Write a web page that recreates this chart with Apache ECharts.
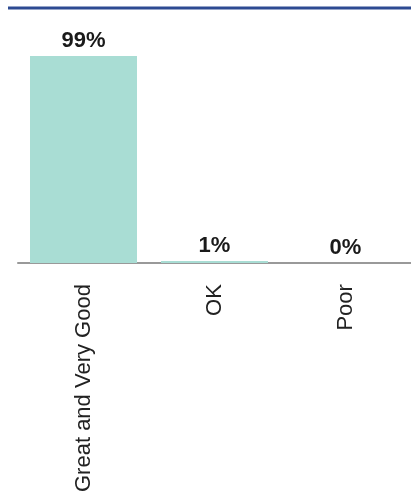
<!DOCTYPE html>
<html>
<head>
<meta charset="utf-8">
<script src="https://cdn.jsdelivr.net/npm/echarts@6/dist/echarts.min.js"></script>
<style>html,body{margin:0;padding:0;background:#fff}#c{width:411px;height:495px}</style>
</head>
<body>
<div id="c"></div>
<script>
var categories = ['Great and Very Good', 'OK', 'Poor'];
var values = [99, 1, 0];

var chart = echarts.init(document.getElementById('c'), null, {renderer: 'canvas'});
chart.setOption({
  animation: false,
  graphic: [{
    type: 'line',
    shape: {x1: 8, y1: 8, x2: 411, y2: 8},
    style: {stroke: '#2d4a92', lineWidth: 3}
  }],
  grid: {left: 18, right: 0, top: 54, bottom: 231, containLabel: false},
  xAxis: {
    type: 'category',
    data: categories,
    axisLine: {show: true, lineStyle: {color: '#999999', width: 2}},
    axisTick: {show: false},
    axisLabel: {
      rotate: 90,
      margin: 21,
      color: '#222222',
      fontFamily: 'Liberation Sans, Arial, sans-serif',
      fontSize: 22,
      interval: 0
    }
  },
  yAxis: {
    type: 'value',
    min: 0,
    max: 100,
    show: false,
    splitLine: {show: false}
  },
  series: [{
    type: 'bar',
    data: values,
    barWidth: 107,
    itemStyle: {color: '#a9ddd4'},
    label: {
      show: true,
      position: 'top',
      distance: 4,
      formatter: '{c}%',
      color: '#1a1a1a',
      fontFamily: 'Liberation Sans, Arial, sans-serif',
      fontWeight: 'bold',
      fontSize: 22
    }
  }]
});
</script>
</body>
</html>
